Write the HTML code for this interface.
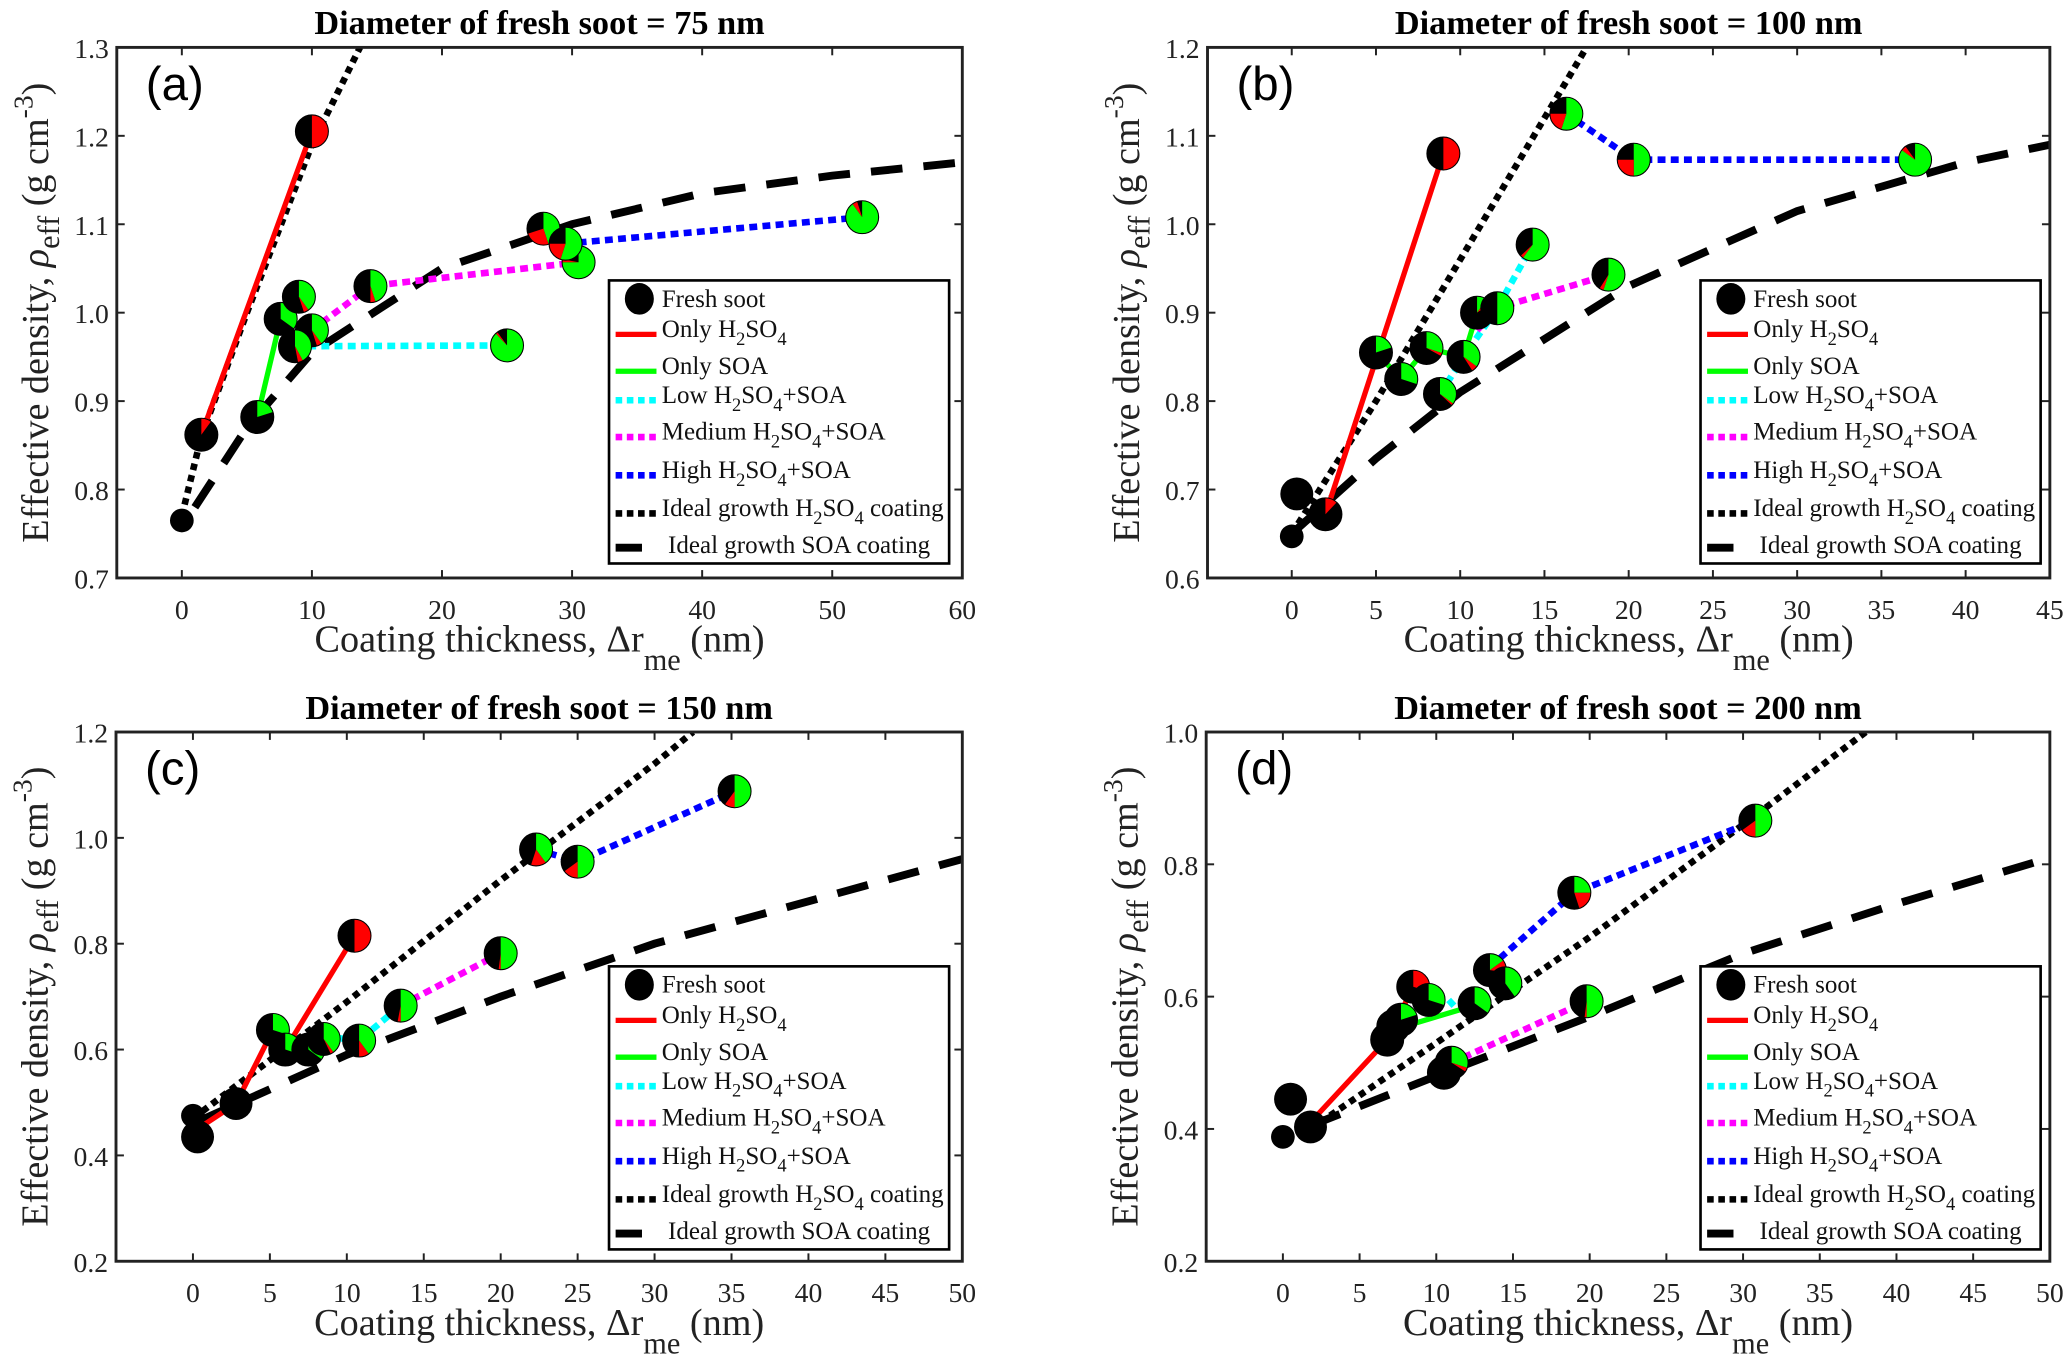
<!DOCTYPE html>
<html><head><meta charset="utf-8"><style>
html,body{margin:0;padding:0;background:#fff;}
svg{display:block;}
text{font-family:"Liberation Serif",serif;}
</style></head><body>
<svg id="fig" width="2067" height="1360" viewBox="0 0 1568 1033" preserveAspectRatio="none" xmlns="http://www.w3.org/2000/svg"></svg>
<script>
// ---------- Panel (a) data ----------
const aFreshX=[0,1.5], aFreshY=[0.765,0.862];
const aRedX=[1.5,10], aRedY=[0.862,1.205];
const aGreenX=[5.8,7.6], aGreenY=[0.882,0.993];
const aCyanX=[8.7,25], aCyanY=[0.962,0.963];
const aMagX=[10,14.5,30.5], aMagY=[0.98,1.03,1.057];
const aBlueX=[29.5,52.3], aBlueY=[1.078,1.108];
const aIdealAX=[0,1.5,5,10,13.7], aIdealAY=[0.77,0.86,1.0,1.19,1.3];
const aIdealSX=[1,5,10,20,30,40,50,60], aIdealSY=[0.78,0.87,0.955,1.05,1.1,1.135,1.155,1.17];
const aPieX=[1.5,10,5.8,7.6,9,10,8.7,25,14.5,30.5,27.8,29.5,52.3];
const aPieY=[0.862,1.205,0.882,0.993,1.018,0.98,0.962,0.963,1.03,1.057,1.095,1.078,1.108];
const aPieG=[0,0,0.2,0.35,0.4,0.4,0.42,0.88,0.45,0.75,0.45,0.55,0.9];
const aPieR=[0.1,0.5,0,0,0.05,0.05,0.05,0.02,0.05,0.03,0.25,0.2,0.05];
// ---------- Panel (b) data ----------
const bFreshX=[0,0.3], bFreshY=[0.647,0.695];
const bRedX=[2,9], bRedY=[0.672,1.08];
const bGreenX=[5,6.5,8,10.2,11], bGreenY=[0.855,0.825,0.86,0.85,0.9];
const bCyanX=[8.8,10.2,12.2,14.3], bCyanY=[0.808,0.85,0.905,0.977];
const bMagX=[11,12.2,18.8], bMagY=[0.88,0.905,0.943];
const bBlueX=[16.3,20.3,37], bBlueY=[1.125,1.073,1.073];
const bIdealAX=[0,5,10,15,17.5], bIdealAY=[0.65,0.8,0.96,1.12,1.2];
const bIdealSX=[0,5,10,20,30,40,45], bIdealSY=[0.65,0.735,0.81,0.93,1.015,1.07,1.09];
const bPieX=[2,9,5,6.5,8,8.8,10.2,11,12.2,14.3,18.8,16.3,20.3,37];
const bPieY=[0.672,1.08,0.855,0.825,0.86,0.808,0.85,0.9,0.905,0.977,0.943,1.125,1.073,1.073];
const bPieG=[0,0,0.2,0.3,0.3,0.35,0.35,0.1,0.5,0.6,0.55,0.55,0.5,0.85];
const bPieR=[0.12,0.5,0,0,0.03,0.02,0.06,0.06,0,0.03,0.04,0.2,0.25,0.05];
// ---------- Panel (c) data ----------
const cFreshX=[0,0.3,2.8], cFreshY=[0.475,0.435,0.498];
const cRedX=[0.3,2.8,5.2], cRedY=[0.45,0.498,0.637];
const cRed2X=[6,10.5], cRed2Y=[0.6,0.815];
const cGreenX=[5.2,6,7.5,8.5], cGreenY=[0.637,0.6,0.6,0.62];
const cCyanX=[8.5,10.8,13.5], cCyanY=[0.625,0.617,0.683];
const cMagX=[13.5,20], cMagY=[0.683,0.782];
const cBlueX=[22.3,25,35.2], cBlueY=[0.978,0.955,1.088];
const cIdealAX=[0,10,20,30,32.5], cIdealAY=[0.47,0.69,0.92,1.14,1.2];
const cIdealSX=[0,10,20,30,40,50], cIdealSY=[0.46,0.59,0.7,0.8,0.88,0.96];
const cPieX=[10.5,5.2,6,7.5,8.5,10.8,13.5,20,22.3,25,35.2];
const cPieY=[0.815,0.637,0.6,0.6,0.62,0.617,0.683,0.782,0.978,0.955,1.088];
const cPieG=[0,0.3,0.3,0.35,0.4,0.4,0.5,0.5,0.4,0.5,0.5];
const cPieR=[0.5,0,0,0,0.03,0.1,0.03,0.02,0.15,0.15,0.1];
// ---------- Panel (d) data ----------
const dFreshX=[0,0.5,1.8], dFreshY=[0.388,0.445,0.403];
const dRedX=[1.8,6.8,8.5], dRedY=[0.41,0.535,0.615];
const dGreenX=[7.2,11.5], dGreenY=[0.55,0.58];
const dCyanX=[10.8,11.2], dCyanY=[0.595,0.585];
const dMagX=[11,19.8], dMagY=[0.5,0.593];
const dBlueX=[13.5,19,30.8], dBlueY=[0.645,0.757,0.866];
const dIdealAX=[1.8,10,20,30,38], dIdealAY=[0.4,0.53,0.69,0.86,1.0];
const dIdealSX=[1.8,10,20,30,40,50], dIdealSY=[0.405,0.48,0.57,0.665,0.74,0.81];
const dPieX=[6.8,7.2,7.7,8.5,9.5,10.5,11,12.5,13.5,14.5,19,19.8,30.8];
const dPieY=[0.535,0.555,0.565,0.615,0.595,0.485,0.5,0.59,0.64,0.62,0.757,0.593,0.866];
const dPieG=[0.15,0.15,0.2,0,0.3,0.25,0.3,0.35,0.15,0.4,0.25,0.5,0.5];
const dPieR=[0,0,0,0.3,0,0.02,0.04,0,0.12,0,0.2,0.02,0.15];

const NS="http://www.w3.org/2000/svg";
const fig=document.getElementById('fig');
function mk(tag,attrs,parent){const e=document.createElementNS(NS,tag);for(const k in attrs)e.setAttribute(k,attrs[k]);(parent||fig).appendChild(e);return e;}

function panel(P){
  const g=mk('g',{});
  
  
  const sx=v=>P.L+(v-P.x0)/(P.x1-P.x0)*(P.R-P.L);
  const sy=v=>P.B-(v-P.y0)/(P.y1-P.y0)*(P.B-P.T);
  const cx=(P.L+P.R)/2;
  const t=mk('text',{x:cx,y:P.T-10,'text-anchor':'middle','font-size':26,'font-weight':'bold'},g);
  t.textContent=P.title;
  
  
  const cid='clip'+P.id;
  const cp=mk('clipPath',{id:cid},g);mk('rect',{x:P.L,y:P.T,width:P.R-P.L,height:P.B-P.T},cp);
  P.xt.forEach(v=>{
    const x=sx(v);
    const l1=mk('line',{x1:x,x2:x,y1:P.B,y2:P.B-6,stroke:'#222','stroke-width':1.5},g);
    
    
    mk('line',{x1:x,x2:x,y1:P.T,y2:P.T+6,stroke:'#222','stroke-width':1.5},g);
    const tl=mk('text',{x:x,y:P.B+31,'text-anchor':'middle','font-size':21,fill:'#222'},g);
    tl.textContent=String(v);
    
    
  });
  P.yt.forEach(v=>{
    const y=sy(v);
    mk('line',{x1:P.L,x2:P.L+6,y1:y,y2:y,stroke:'#222','stroke-width':1.5},g);
    mk('line',{x1:P.R,x2:P.R-6,y1:y,y2:y,stroke:'#222','stroke-width':1.5},g);
    const tl=mk('text',{x:P.L-6,y:y+8,'text-anchor':'end','font-size':21,fill:'#222'},g);
    tl.textContent=v.toFixed(1);
    
    
  });
  const xl=mk('text',{x:cx,y:P.B+56,'text-anchor':'middle','font-size':29,fill:'#222'},g);
  xl.innerHTML='Coating thickness, Δr<tspan dy="14" font-size="23">me</tspan><tspan dy="-14"> (nm)</tspan>';
  
  
  const yl=mk('text',{x:0,y:0,'text-anchor':'middle','font-size':29,fill:'#222',transform:`translate(${P.L-52},${(P.T+P.B)/2}) rotate(-90)`},g);
  yl.innerHTML='Effective  density, <tspan font-style="italic">ρ</tspan><tspan dy="8" font-size="23">eff</tspan><tspan dy="-8"> (g cm</tspan><tspan dy="-12" font-size="21">-3</tspan><tspan dy="12">)</tspan>';
  
  
  const pg=mk('g',{'clip-path':`url(#${cid})`},g);
  function line(X,Y,col,w,dash,name){
    const d=X.map((v,i)=>(i?'L':'M')+sx(v).toFixed(1)+','+sy(Y[i]).toFixed(1)).join('');
    const p=mk('path',{d:d,fill:'none',stroke:col,'stroke-width':w,'stroke-dasharray':dash||'none'},pg);
    
    
  }
  line(P.iaX,P.iaY,'#000',5,'5,4','ideal-h2so4-line');
  line(P.isX,P.isY,'#000',6,'24,16','ideal-soa-line');
  line(P.redX,P.redY,'#f00',4,null,'h2so4-line');
  if(P.red2X) line(P.red2X,P.red2Y,'#f00',4,null,'h2so4-line-2');
  line(P.grX,P.grY,'#0f0',4,null,'soa-line');
  line(P.cyX,P.cyY,'#0ff',5,'6,4','low-line');
  line(P.mgX,P.mgY,'#f0f',5,'6,4','medium-line');
  line(P.blX,P.blY,'#00f',5,'6,4','high-line');
  P.frX.forEach((v,i)=>{
    const c=mk('circle',{cx:sx(v),cy:sy(P.frY[i]),r:i==0?9:12.5,fill:'#000'},pg);
    
    
  });
  P.pX.forEach((v,i)=>{
    const x=sx(v),y=sy(P.pY[i]),r=12.5;
    const pie=mk('g',{},pg);
    
    
    mk('circle',{cx:x,cy:y,r:r,fill:'#000'},pie);
    let a0=0;
    [[P.pG[i],'#0f0'],[P.pR[i],'#f00']].forEach(([f,col])=>{
      if(f<=0)return;
      const a1=a0+f*2*Math.PI;
      const p0=[x+r*Math.sin(a0),y-r*Math.cos(a0)],p1=[x+r*Math.sin(a1),y-r*Math.cos(a1)];
      mk('path',{d:`M${x},${y}L${p0[0]},${p0[1]}A${r},${r} 0 ${f>0.5?1:0} 1 ${p1[0]},${p1[1]}Z`,fill:col},pie);
      a0=a1;
    });
    mk('circle',{cx:x,cy:y,r:r,fill:'none',stroke:'#000','stroke-width':0.8},pie);
  });
  const bx=mk('rect',{x:P.L,y:P.T,width:P.R-P.L,height:P.B-P.T,fill:'none',stroke:'#222','stroke-width':2.2},g);
  
  
  const lt=mk('text',{x:P.L+22,y:P.T+40,'font-size':36,style:'font-family:"Liberation Sans",sans-serif'},g);
  lt.textContent='('+P.id+')';
  
  
  const LX=P.lgX,LY=P.lgY;
  const lg=mk('g',{},g);
  
  
  mk('rect',{x:LX,y:LY,width:258,height:215,fill:'#fff',stroke:'#000','stroke-width':2},lg);
  const ent=[
    ['dot','#000','Fresh soot'],
    ['solid','#f00','Only H<tspan dy="6" font-size="14">2</tspan><tspan dy="-6">SO</tspan><tspan dy="6" font-size="14">4</tspan>'],
    ['solid','#0f0','Only SOA'],
    ['dot6','#0ff','Low H<tspan dy="6" font-size="14">2</tspan><tspan dy="-6">SO</tspan><tspan dy="6" font-size="14">4</tspan><tspan dy="-6">+SOA</tspan>'],
    ['dot6','#f0f','Medium H<tspan dy="6" font-size="14">2</tspan><tspan dy="-6">SO</tspan><tspan dy="6" font-size="14">4</tspan><tspan dy="-6">+SOA</tspan>'],
    ['dot6','#00f','High H<tspan dy="6" font-size="14">2</tspan><tspan dy="-6">SO</tspan><tspan dy="6" font-size="14">4</tspan><tspan dy="-6">+SOA</tspan>'],
    ['dot6','#000','Ideal growth H<tspan dy="6" font-size="14">2</tspan><tspan dy="-6">SO</tspan><tspan dy="6" font-size="14">4</tspan><tspan dy="-6"> coating</tspan>'],
    ['dash','#000','&#160;Ideal growth SOA coating']];
  const offs=[14,37,65,87,115,144,173,201];
  ent.forEach((e,i)=>{
    const y=LY+offs[i];
    const eg=mk('g',{},lg);
    
    
    if(e[0]=='dot') mk('ellipse',{cx:LX+23,cy:y,rx:11,ry:12,fill:'#000'},eg);
    else if(e[0]=='solid') mk('line',{x1:LX+5,x2:LX+36,y1:y+4,y2:y+4,stroke:e[1],'stroke-width':4},eg);
    else if(e[0]=='dot6') mk('line',{x1:LX+5,x2:LX+36,y1:y+4,y2:y+4,stroke:e[1],'stroke-width':5,'stroke-dasharray':'5,3.5'},eg);
    else mk('line',{x1:LX+5,x2:LX+25,y1:y+2,y2:y+2,stroke:'#000','stroke-width':6},eg);
    const tx=mk('text',{x:LX+40,y:y+6,'font-size':19,fill:'#111'},eg);
    tx.innerHTML=e[2];
  });
}

panel({id:'a',title:'Diameter of fresh soot = 75 nm',L:88.6,R:730,T:36,B:439,x0:-5,x1:60,y0:0.7,y1:1.3,
  xt:[0,10,20,30,40,50,60],yt:[0.7,0.8,0.9,1.0,1.1,1.2,1.3],
  frX:aFreshX.slice(0,1),frY:aFreshY.slice(0,1),redX:aRedX,redY:aRedY,grX:aGreenX,grY:aGreenY,cyX:aCyanX,cyY:aCyanY,
  mgX:aMagX,mgY:aMagY,blX:aBlueX,blY:aBlueY,iaX:aIdealAX,iaY:aIdealAY,isX:aIdealSX,isY:aIdealSY,
  pX:aPieX,pY:aPieY,pG:aPieG,pR:aPieR,lgX:462,lgY:213});
panel({id:'b',title:'Diameter of fresh soot = 100 nm',L:916,R:1555,T:36,B:439,x0:-5,x1:45,y0:0.6,y1:1.2,
  xt:[0,5,10,15,20,25,30,35,40,45],yt:[0.6,0.7,0.8,0.9,1.0,1.1,1.2],
  frX:bFreshX,frY:bFreshY,redX:bRedX,redY:bRedY,grX:bGreenX,grY:bGreenY,cyX:bCyanX,cyY:bCyanY,
  mgX:bMagX,mgY:bMagY,blX:bBlueX,blY:bBlueY,iaX:bIdealAX,iaY:bIdealAY,isX:bIdealSX,isY:bIdealSY,
  pX:bPieX,pY:bPieY,pG:bPieG,pR:bPieR,lgX:1290,lgY:213});
panel({id:'c',title:'Diameter of fresh soot = 150 nm',L:88,R:730,T:556,B:958,x0:-5,x1:50,y0:0.2,y1:1.2,
  xt:[0,5,10,15,20,25,30,35,40,45,50],yt:[0.2,0.4,0.6,0.8,1.0,1.2],
  frX:cFreshX,frY:cFreshY,redX:cRedX,redY:cRedY,red2X:cRed2X,red2Y:cRed2Y,grX:cGreenX,grY:cGreenY,cyX:cCyanX,cyY:cCyanY,
  mgX:cMagX,mgY:cMagY,blX:cBlueX,blY:cBlueY,iaX:cIdealAX,iaY:cIdealAY,isX:cIdealSX,isY:cIdealSY,
  pX:cPieX,pY:cPieY,pG:cPieG,pR:cPieR,lgX:462,lgY:734});
panel({id:'d',title:'Diameter of fresh soot = 200 nm',L:915,R:1555,T:556,B:958,x0:-5,x1:50,y0:0.2,y1:1.0,
  xt:[0,5,10,15,20,25,30,35,40,45,50],yt:[0.2,0.4,0.6,0.8,1.0],
  frX:dFreshX,frY:dFreshY,redX:dRedX,redY:dRedY,grX:dGreenX,grY:dGreenY,cyX:dCyanX,cyY:dCyanY,
  mgX:dMagX,mgY:dMagY,blX:dBlueX,blY:dBlueY,iaX:dIdealAX,iaY:dIdealAY,isX:dIdealSX,isY:dIdealSY,
  pX:dPieX,pY:dPieY,pG:dPieG,pR:dPieR,lgX:1290,lgY:734});
</script>
</body></html>
